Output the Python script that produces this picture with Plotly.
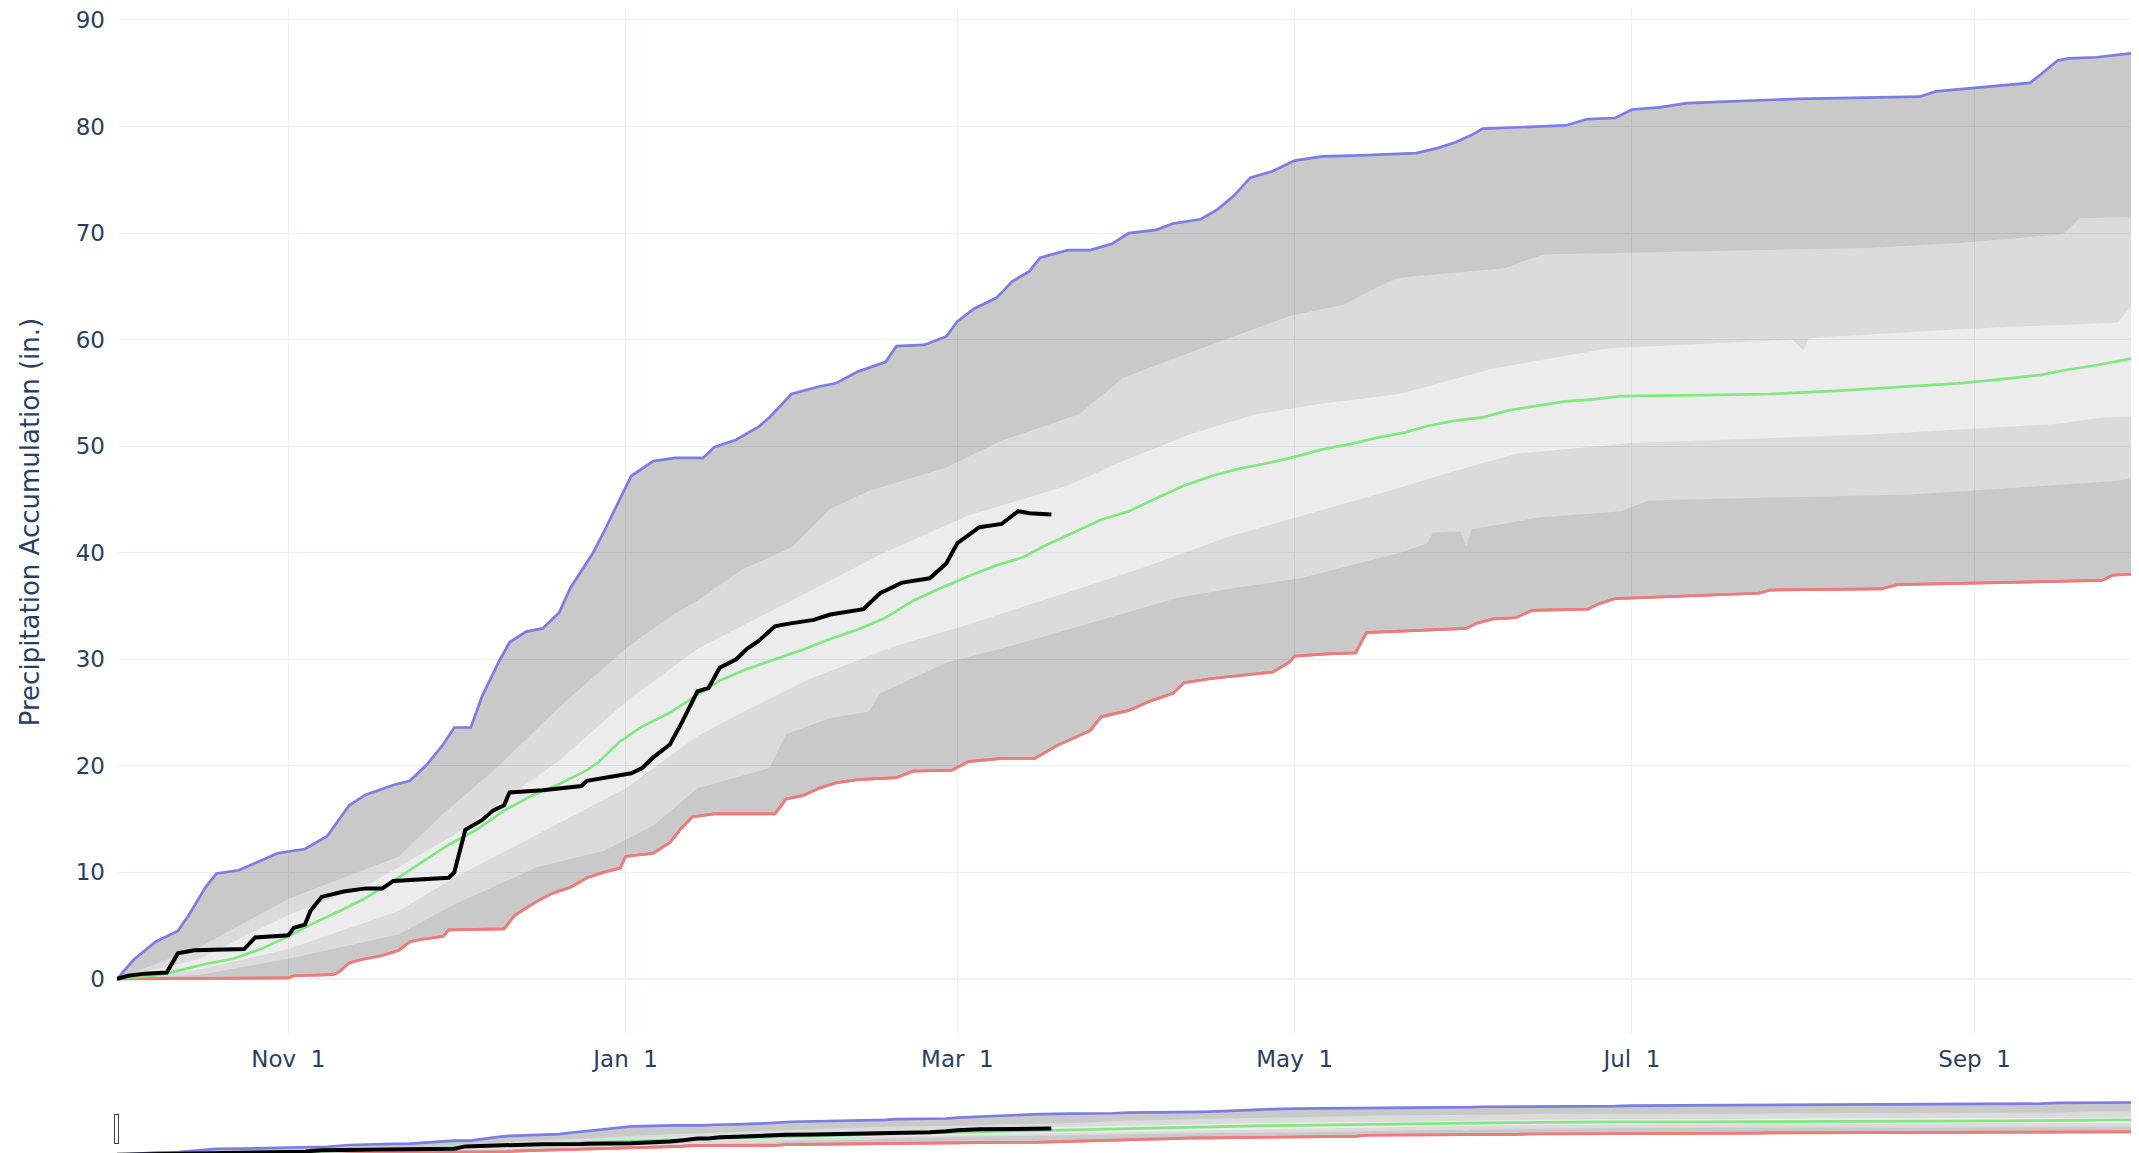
import pandas as pd
import plotly.graph_objects as go

START = pd.Timestamp("2023-10-01")

# ---- data (day of water year, value in inches) ----
max_days = [0, 3, 7, 11, 13, 16, 18, 22, 26, 29, 34, 38, 42, 45, 50, 53, 56, 59, 61, 64, 66, 69, 71, 74, 77, 80,
            82, 86, 88, 91, 93, 97, 101, 106, 108, 112, 116, 118, 122, 127, 130, 134, 139, 141, 146, 150, 152, 155,
            159, 162, 165, 167, 172, 176, 180, 183, 188, 191, 196, 199, 202, 205, 209, 213, 218, 225, 235, 239, 242,
            245, 247, 262, 266, 271, 274, 279, 284, 304, 326, 329, 333, 346, 348, 351, 353, 358, 365]
max_vals = [0, 1.8, 3.5, 4.5, 6.0, 8.6, 9.9, 10.2, 11.1, 11.8, 12.2, 13.4, 16.3, 17.3, 18.2, 18.6, 20.1, 22.0, 23.6,
            23.6, 26.5, 29.7, 31.6, 32.6, 32.9, 34.4, 36.7, 39.9, 41.9, 45.1, 47.2, 48.6, 48.9, 48.9, 49.9, 50.6,
            51.8, 52.7, 54.9, 55.6, 55.9, 57.0, 57.9, 59.4, 59.5, 60.3, 61.7, 62.9, 63.9, 65.5, 66.4, 67.7, 68.4,
            68.4, 69.0, 70.0, 70.3, 70.9, 71.3, 72.2, 73.5, 75.2, 75.8, 76.8, 77.2, 77.3, 77.5, 78.0, 78.5, 79.2,
            79.8, 80.1, 80.7, 80.8, 81.6, 81.8, 82.2, 82.6, 82.8, 83.3, 83.5, 84.1, 84.9, 86.2, 86.4, 86.5, 86.9]

min_days = [0, 31, 32, 39, 40, 42, 44, 48, 51, 53, 55, 59, 60, 70, 72, 76, 79, 82, 85, 88, 91, 92, 97, 100, 102, 104,
            108, 119, 121, 124, 127, 130, 134, 141, 144, 151, 154, 160, 166, 170, 176, 178, 183, 187, 191, 193, 198,
            203, 209, 212, 213, 219, 224, 226, 244, 246, 249, 253, 256, 266, 268, 271, 289, 297, 299, 319, 322, 348,
            359, 361, 365]
min_vals = [0, 0.1, 0.3, 0.4, 0.6, 1.5, 1.8, 2.2, 2.7, 3.5, 3.7, 4.0, 4.6, 4.7, 6.0, 7.3, 8.1, 8.6, 9.5, 10.0, 10.4,
            11.5, 11.8, 12.8, 14.1, 15.2, 15.5, 15.5, 16.9, 17.2, 17.9, 18.4, 18.7, 18.9, 19.5, 19.6, 20.4, 20.7,
            20.7, 21.9, 23.3, 24.6, 25.2, 26.1, 26.8, 27.8, 28.2, 28.5, 28.8, 29.7, 30.3, 30.5, 30.6, 32.5, 32.9,
            33.4, 33.8, 33.9, 34.6, 34.7, 35.2, 35.7, 36.0, 36.2, 36.5, 36.6, 37.0, 37.3, 37.4, 37.9, 38.0]

p10_days = [0, 15, 31, 51, 61, 76, 88, 97, 105, 118, 121, 129, 136, 138, 150, 162, 174, 182, 192, 202, 214, 232,
            237, 238, 243, 244, 245, 257, 272, 277, 325, 361, 365]
p10_vals = [0, 0.4, 1.9, 4.2, 7.0, 10.5, 12.0, 14.4, 17.9, 19.8, 23.0, 24.5, 25.1, 26.8, 29.7, 31.3, 33.1, 34.3,
            35.8, 36.7, 37.6, 40.0, 40.9, 41.9, 42.0, 40.6, 42.2, 43.3, 43.9, 44.9, 45.5, 46.7, 47.0]

p30_days = [0, 15, 31, 51, 61, 76, 92, 105, 113, 125, 141, 153, 169, 185, 201, 218, 232, 240, 253, 274, 317, 351,
            359, 365]
p30_vals = [0, 0.9, 2.8, 6.4, 9.5, 13.6, 17.9, 22.8, 25.0, 28.1, 31.3, 33.1, 35.8, 38.5, 41.5, 44.0, 46.1, 47.4,
            49.3, 50.3, 51.1, 52.1, 52.7, 52.8]

p70_days = [0, 15, 31, 46, 61, 80, 92, 105, 122, 138, 154, 172, 182, 194, 206, 218, 232, 249, 270, 299, 303, 305,
            306, 308, 334, 362, 365]
p70_vals = [0, 1.9, 6.0, 9.0, 13.5, 20.5, 26.0, 31.0, 35.5, 39.8, 43.5, 46.3, 48.6, 51.1, 53.0, 54.0, 54.9, 57.3,
            59.2, 59.9, 60.0, 59.0, 60.1, 60.2, 61.0, 61.6, 63.6]

p90_days = [0, 15, 31, 51, 59, 68, 80, 92, 100, 105, 113, 122, 129, 136, 150, 160, 174, 182, 190, 206, 212, 222,
            229, 232, 251, 258, 290, 317, 334, 352, 355, 365]
p90_vals = [0, 3.0, 7.5, 11.5, 15.5, 19.5, 25.5, 31.0, 34.0, 35.5, 38.4, 40.5, 44.1, 45.8, 48.0, 50.5, 53.0, 56.4,
            58.0, 61.1, 62.2, 63.3, 65.2, 65.8, 66.7, 68.0, 68.3, 68.6, 69.1, 69.9, 71.4, 71.5]

med_days = [0, 8, 12, 16, 21, 26, 31, 35, 40, 45, 50, 55, 60, 65, 70, 75, 80, 85, 87, 91, 95, 100, 104, 109, 114,
            119, 124, 129, 134, 139, 144, 149, 154, 159, 164, 168, 173, 178, 183, 188, 193, 198, 203, 208, 213, 218,
            223, 228, 233, 237, 242, 247, 252, 257, 262, 267, 272, 287, 299, 311, 324, 333, 341, 348, 353, 358, 365]
med_vals = [0, 0.4, 0.9, 1.4, 1.9, 2.8, 4.0, 5.1, 6.3, 7.6, 9.2, 10.9, 12.6, 14.0, 15.8, 17.2, 18.3, 19.6, 20.3,
            22.3, 23.7, 25.0, 26.3, 28.0, 29.1, 30.0, 30.9, 31.9, 32.8, 33.9, 35.5, 36.7, 37.8, 38.8, 39.6, 40.7,
            41.9, 43.1, 43.9, 45.1, 46.3, 47.2, 47.9, 48.4, 49.0, 49.7, 50.2, 50.8, 51.3, 51.9, 52.4, 52.7, 53.4,
            53.8, 54.2, 54.4, 54.7, 54.8, 54.9, 55.2, 55.6, 55.9, 56.3, 56.7, 57.2, 57.6, 58.3]

cur_days = [0, 2, 5, 9, 11, 14, 23, 25, 31, 32, 34, 35, 37, 41, 45, 48, 50, 60, 61, 63, 66, 68, 70, 71, 77, 84, 85,
            93, 95, 97, 100, 102, 105, 107, 109, 112, 114, 116, 119, 121, 126, 129, 135, 138, 142, 147, 150, 152,
            156, 160, 163, 165, 169]
cur_vals = [0, 0.3, 0.5, 0.6, 2.4, 2.7, 2.8, 3.9, 4.1, 4.8, 5.1, 6.4, 7.7, 8.2, 8.5, 8.5, 9.2, 9.5, 10.0, 14.0, 14.9,
            15.8, 16.3, 17.5, 17.7, 18.1, 18.6, 19.3, 19.8, 20.8, 22.0, 23.9, 27.0, 27.3, 29.2, 30.0, 31.0, 31.7,
            33.1, 33.3, 33.7, 34.2, 34.7, 36.2, 37.2, 37.6, 39.0, 40.9, 42.4, 42.7, 43.9, 43.7, 43.6]

Y_TITLE = "Precipitation Accumulation (in.)"
X_RANGE = ["2023-10-01", "2024-09-30"]


def dates(days):
    return [START + pd.Timedelta(days=d) for d in days]


DARK = "rgba(0,0,0,0.21)"
MID = "rgba(0,0,0,0.14)"
LIGHT = "rgba(0,0,0,0.075)"
RED = "rgb(236,124,124)"
BLUE = "rgb(124,124,228)"
GREEN = "rgb(128,232,128)"

fig = go.Figure()
fig.add_trace(go.Scatter(x=dates(min_days), y=min_vals, mode="lines",
                         line=dict(color=RED, width=2.7), name="Min"))
fig.add_trace(go.Scatter(x=dates(p10_days), y=p10_vals, mode="lines", line=dict(width=0),
                         fill="tonexty", fillcolor=DARK, name="10%"))
fig.add_trace(go.Scatter(x=dates(p30_days), y=p30_vals, mode="lines", line=dict(width=0),
                         fill="tonexty", fillcolor=MID, name="30%"))
fig.add_trace(go.Scatter(x=dates(p70_days), y=p70_vals, mode="lines", line=dict(width=0),
                         fill="tonexty", fillcolor=LIGHT, name="70%"))
fig.add_trace(go.Scatter(x=dates(p90_days), y=p90_vals, mode="lines", line=dict(width=0),
                         fill="tonexty", fillcolor=MID, name="90%"))
fig.add_trace(go.Scatter(x=dates(max_days), y=max_vals, mode="lines",
                         line=dict(color=BLUE, width=2.7),
                         fill="tonexty", fillcolor=DARK, name="Max"))
fig.add_trace(go.Scatter(x=dates(min_days), y=min_vals, mode="lines",
                         line=dict(color=RED, width=2.7), name="Min", showlegend=False))
fig.add_trace(go.Scatter(x=dates(med_days), y=med_vals, mode="lines",
                         line=dict(color=GREEN, width=2.7), name="Median"))
fig.add_trace(go.Scatter(x=dates(cur_days), y=cur_vals, mode="lines",
                         line=dict(color="black", width=4), name="Current"))

fig.update_layout(
    template="plotly_white",
    width=2131,
    height=1163,
    margin=dict(l=109, r=4, t=0, b=0),
    font=dict(family="DejaVu Sans", size=23, color="#2a3f5f"),
    showlegend=False,
    xaxis=dict(
        type="date",
        range=X_RANGE,
        dtick="M2",
        tick0="2023-11-01",
        tickformat="%b %e",
        ticklabelstandoff=8,
        rangeslider=dict(visible=True, thickness=0.04987, range=X_RANGE,
                         borderwidth=26, bordercolor="rgba(255,255,255,0)"),
    ),
    yaxis=dict(
        range=[-5.26, 91.03],
        dtick=10,
        ticklabelstandoff=11,
        ticklabeloverflow="allow",
        title=dict(text=Y_TITLE, font=dict(size=26), standoff=28),
    ),
)

fig.write_html("out.html")
